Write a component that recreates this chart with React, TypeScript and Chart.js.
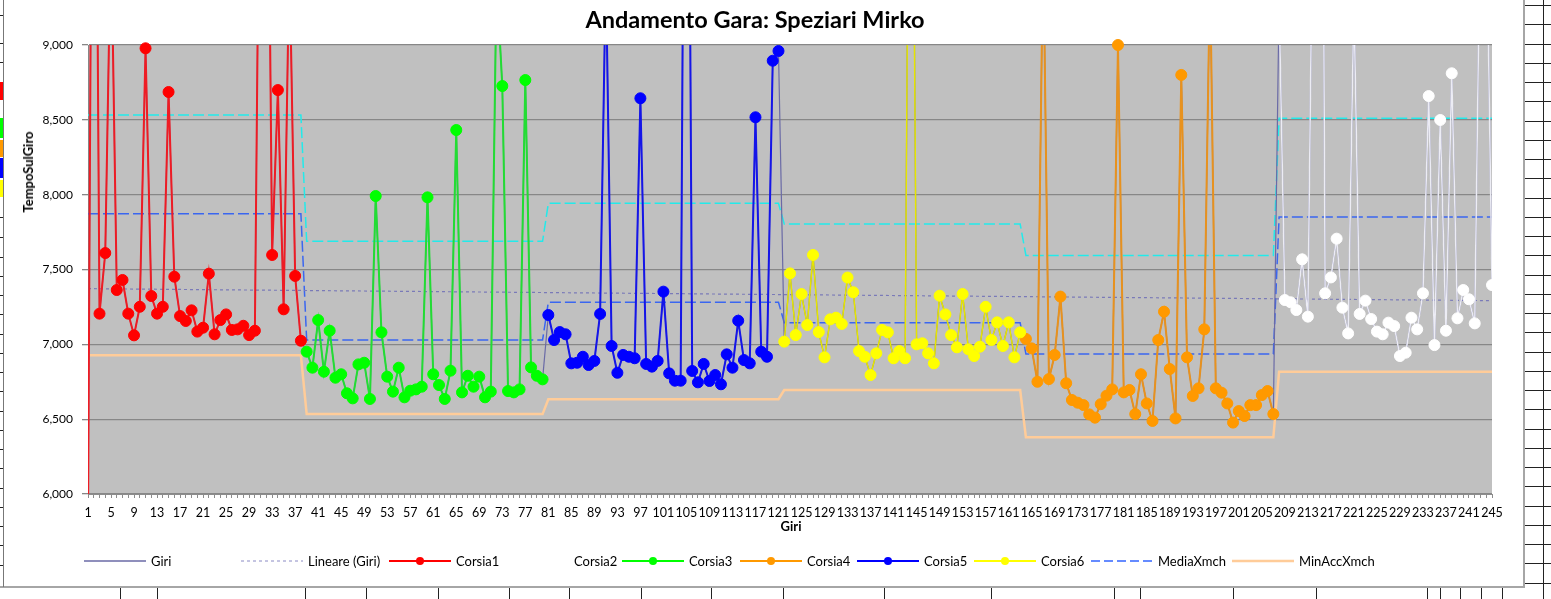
import React, { useEffect, useRef } from 'react';
import { Chart, registerables } from 'chart.js';

Chart.register(...registerables);

// ---------------- DATA ----------------
const laps: string[] = Array.from({ length: 245 }, (_, i) => String(i + 1));

const lapTimes: number[] = [
  5800, 13000, 7205, 7610, 9800, 7363, 7430, 7205, 7060, 7251,
  8978, 7323, 7205, 7251, 8686, 7452, 7189, 7156, 7227, 7085,
  7111, 7472, 7067, 7162, 7200, 7096, 7100, 7124, 7062, 7091,
  11200, 11700, 7597, 8699, 7234, 9600, 7457, 7024, 6951, 6844,
  7162, 6817, 7091, 6777, 6800, 6673, 6639, 6866, 6877, 6635,
  7991, 7080, 6784, 6684, 6844, 6646, 6690, 6699, 6717, 7982,
  6800, 6728, 6635, 6824, 8432, 6679, 6790, 6717, 6784, 6646,
  6684, 9450, 8726, 6688, 6679, 6699, 8766, 6846, 6790, 6766,
  7196, 7029, 7082, 7067, 6873, 6877, 6917, 6862, 6889, 7203,
  9500, 6989, 6810, 6929, 6917, 6907, 8644, 6869, 6851, 6889,
  7352, 6806, 6757, 6757, 13500, 6822, 6746, 6869, 6755, 6795,
  6733, 6933, 6844, 7158, 6895, 6873, 8517, 6951, 6917, 8895,
  8960, 7018, 7474, 7062, 7336, 7129, 7597, 7082, 6913, 7167,
  7178, 7136, 7446, 7348, 6955, 6917, 6795, 6940, 7096, 7080,
  6907, 6955, 6907, 12500, 7000, 7007, 6940, 6873, 7325, 7200,
  7062, 6980, 7336, 6967, 6922, 6984, 7251, 7029, 7147, 6989,
  7147, 6913, 7080, 7036, 6973, 6750, 9700, 6768, 6929, 7319,
  6740, 6628, 6610, 6594, 6532, 6510, 6600, 6657, 6699, 9000,
  6679, 6695, 6534, 6800, 6605, 6488, 7029, 7218, 6835, 6505,
  8800, 6913, 6655, 6706, 7100, 9500, 6706, 6677, 6605, 6477,
  6554, 6521, 6594, 6594, 6661, 6688, 6534, 9300, 7296, 7281,
  7229, 7568, 7185, 10500, 15000, 7341, 7447, 7706, 7245, 7073,
  9300, 7203, 7292, 7169, 7085, 7067, 7145, 7122, 6922, 6944,
  7178, 7100, 7341, 8659, 6995, 8499, 7091, 8811, 7174, 7363,
  7301, 7140, 10000, 10000, 7396,
];

// stints (in lap order)
const corsiaNames = ['Corsia1', 'Corsia3', 'Corsia5', 'Corsia6', 'Corsia4', 'Corsia2'];
const corsiaFirstLap = [1, 39, 81, 122, 164, 208];
const corsiaLastLap = [38, 80, 121, 163, 207, 245];

// per-stint reference values
const mediaXmch = [7873, 7029, 7281, 7145, 6935, 7851];
const maxXmch = [8532, 7688, 7942, 7804, 7594, 8510];
const minAccXmch = [6927, 6534, 6633, 6695, 6379, 6817];

// linear trend of Giri (first and last lap)
const trendEnds = [7372, 7292];

const yMin = 6000;
const yMax = 9000;
const yStep = 500;

// ---------------- STYLES ----------------
const corsiaStyle = [
  { marker: '#ff0000', line: '#ee1c24', width: 2 },
  { marker: '#00ff00', line: '#22dd33', width: 2 },
  { marker: '#0000ff', line: '#1515e8', width: 2 },
  { marker: '#ffff00', line: '#e6e600', width: 1.5 },
  { marker: '#ff9900', line: '#e8921e', width: 2 },
  { marker: '#ffffff', line: '#ececf4', width: 1.5 },
];

const FONT = 'Lato, "Open Sans", sans-serif';

type LegendItem = { label: string; x: number; color: string; width: number; dash?: string; marker?: string };
const legendItems: LegendItem[] = [
  { label: 'Giri', x: 84, color: '#6a6aa6', width: 1.5 },
  { label: 'Lineare (Giri)', x: 241, color: '#8a8ac4', width: 1, dash: '3 3' },
  { label: 'Corsia1', x: 389, color: '#ff0000', width: 2, marker: '#ff0000' },
  { label: 'Corsia2', x: 507, color: '#ffffff', width: 2, marker: '#ffffff' },
  { label: 'Corsia3', x: 622, color: '#00ff00', width: 2, marker: '#00ff00' },
  { label: 'Corsia4', x: 740, color: '#ff9900', width: 2, marker: '#ff9900' },
  { label: 'Corsia5', x: 857, color: '#0000ff', width: 2, marker: '#0000ff' },
  { label: 'Corsia6', x: 974, color: '#ffff00', width: 2, marker: '#ffff00' },
  { label: 'MediaXmch', x: 1091, color: '#3366ff', width: 1.5, dash: '9 4' },
  { label: 'MinAccXmch', x: 1232, color: '#ffcc99', width: 2.5 },
];

const bottomCellLines = [120, 157, 305, 366, 438, 509, 569, 641, 711, 783, 884, 991, 1114, 1140, 1233, 1316, 1427, 1440, 1460, 1481, 1502];

const plotBg = {
  id: 'plotBg',
  beforeDraw(chart: any) {
    const { ctx, chartArea } = chart;
    ctx.save();
    ctx.fillStyle = '#c0c0c0';
    ctx.fillRect(chartArea.left, chartArea.top, chartArea.right - chartArea.left, chartArea.bottom - chartArea.top);
    ctx.restore();
  },
};

export default function App() {
  const ref = useRef<HTMLCanvasElement>(null);

  useEffect(() => {
    document.body.style.margin = '0';
    const canvas = ref.current!;
    const segOf = (i: number) =>
      corsiaFirstLap.findIndex((f, s) => i + 1 >= f && i + 1 <= corsiaLastLap[s]);
    const step = (arr: number[]) => laps.map((_, i) => arr[segOf(i)]);

    const datasets: any[] = [];
    corsiaNames.forEach((name, s) => {
      const st = corsiaStyle[s];
      const vals = lapTimes.map((v, i) =>
        i + 1 >= corsiaFirstLap[s] && i + 1 <= corsiaLastLap[s] ? v : null
      );
      datasets.push({
        label: name + ' marker',
        data: vals.map((v) => (v !== null && v <= yMax + 50 ? v : null)),
        showLine: false,
        pointRadius: 5.5,
        pointBackgroundColor: st.marker,
        pointBorderColor: st.marker,
        pointBorderWidth: 1,
        clip: false,
        order: 0,
      });
      datasets.push({
        label: name,
        data: vals,
        borderColor: st.line,
        borderWidth: st.width,
        pointRadius: 0,
        clip: 0,
        order: 1,
      });
    });
    datasets.push({
      label: 'Giri',
      data: lapTimes,
      borderColor: '#6a6aa6',
      borderWidth: 1.2,
      pointRadius: 0,
      clip: 0,
      order: 2,
    });
    datasets.push({
      label: 'Lineare (Giri)',
      data: laps.map((_, i) => (i === 0 ? trendEnds[0] : i === laps.length - 1 ? trendEnds[1] : null)),
      spanGaps: true,
      borderColor: '#7a7ab8',
      borderWidth: 1.2,
      borderDash: [3, 3],
      pointRadius: 0,
      clip: 0,
      order: 3,
    });
    datasets.push({
      label: 'MediaXmch',
      data: step(mediaXmch),
      borderColor: '#3a66f0',
      borderWidth: 1.5,
      borderDash: [11, 4],
      pointRadius: 0,
      clip: 0,
      order: 4,
    });
    datasets.push({
      label: 'MaxXmch',
      data: step(maxXmch),
      borderColor: '#22eaea',
      borderWidth: 1.5,
      borderDash: [11, 4],
      pointRadius: 0,
      clip: 0,
      order: 5,
    });
    datasets.push({
      label: 'MinAccXmch',
      data: step(minAccXmch),
      borderColor: '#ffcc99',
      borderWidth: 2.5,
      pointRadius: 0,
      clip: 0,
      order: 6,
    });

    const chart = new Chart(canvas, {
      type: 'line',
      data: { labels: laps, datasets },
      options: {
        responsive: false,
        animation: false,
        events: [],
        layout: { padding: { left: 0, top: 45, right: 59, bottom: 0 } },
        plugins: {
          legend: { display: false },
          title: { display: false },
          tooltip: { enabled: false },
        },
        scales: {
          x: {
            type: 'category',
            offset: false,
            grid: { drawOnChartArea: false, drawTicks: true, tickLength: 4, color: '#8c8c8c' },
            border: { color: '#8c8c8c', width: 1 },
            ticks: {
              autoSkip: false,
              maxRotation: 0,
              minRotation: 0,
              padding: 7,
              color: '#000',
              font: { family: FONT, size: 12.5 },
              callback: (_v: any, i: number) => (i % 4 === 0 ? laps[i] : ''),
            },
            afterFit: (s: any) => {
              s.height = 105;
            },
          },
          y: {
            min: yMin,
            max: yMax,
            ticks: {
              stepSize: yStep,
              padding: 9,
              color: '#000',
              font: { family: FONT, size: 12 },
              callback: (v: any) => Number(v).toLocaleString('en-US'),
            },
            grid: { color: '#878787', tickLength: 6, lineWidth: 1.3 },
            border: { color: '#878787', width: 1 },
            afterFit: (s: any) => {
              s.width = 88;
            },
          },
        },
      } as any,
      plugins: [plotBg],
    });
    return () => chart.destroy();
  }, []);

  const rowLines = Array.from({ length: 32 }, (_, k) => 5 + k * 19.25);
  const leftMarks = [15, 43, 62, 217, 237, 257, 276, 295, 314, 334, 353, 372, 391, 411, 430, 449, 468, 488, 507, 526, 545, 565];
  const leftCells = [
    { y: 82, h: 18, c: '#ff0000' },
    { y: 118, h: 20, c: '#00ff00' },
    { y: 140, h: 17, c: '#ff9900' },
    { y: 158, h: 20, c: '#0000ff' },
    { y: 180, h: 17, c: '#ffff00' },
  ];

  return (
    <div
      style={{
        position: 'fixed',
        left: 0,
        top: 0,
        width: 1551,
        height: 599,
        overflow: 'hidden',
        background: '#fff',
        fontFamily: FONT,
      }}
    >
      {/* spreadsheet remnants */}
      {rowLines.map((y, k) => (
        <div key={'r' + k} style={{ position: 'absolute', left: 1525, top: Math.round(y), width: 26, height: 1, background: '#222' }} />
      ))}
      <div style={{ position: 'absolute', left: 1543, top: 0, width: 1, height: 599, background: '#222' }} />
      <div style={{ position: 'absolute', left: 1523, top: 0, width: 2, height: 588, background: '#a6a6a6' }} />
      <div style={{ position: 'absolute', left: 0, top: 586, width: 1525, height: 2, background: '#a6a6a6' }} />
      {bottomCellLines.map((x, k) => (
        <div key={'b' + k} style={{ position: 'absolute', left: x, top: 588, width: 1, height: 11, background: '#222' }} />
      ))}
      <div style={{ position: 'absolute', left: 3, top: 0, width: 1, height: 587, background: '#777' }} />
      {leftCells.map((c, k) => (
        <div key={'lc' + k} style={{ position: 'absolute', left: 0, top: c.y, width: 3, height: c.h, background: c.c }} />
      ))}
      {leftMarks.map((y, k) => (
        <div key={'lm' + k} style={{ position: 'absolute', left: 0, top: y, width: 3, height: 1, background: '#222' }} />
      ))}

      <canvas ref={ref} width={1551} height={599} style={{ position: 'absolute', left: 0, top: 0, width: 1551, height: 599 }} />

      {/* title */}
      <div
        style={{
          position: 'absolute',
          left: 755,
          top: 19,
          transform: 'translate(-50%, -50%)',
          fontWeight: 700,
          fontSize: 23.5,
          whiteSpace: 'nowrap',
          color: '#000',
        }}
      >
        Andamento Gara: Speziari Mirko
      </div>
      {/* axis titles */}
      <div
        style={{
          position: 'absolute',
          left: 28,
          top: 172,
          transform: 'translate(-50%, -50%) rotate(-90deg)',
          fontWeight: 700,
          fontSize: 13,
          whiteSpace: 'nowrap',
          color: '#000',
        }}
      >
        TempoSulGiro
      </div>
      <div
        style={{
          position: 'absolute',
          left: 791,
          top: 526,
          transform: 'translate(-50%, -50%)',
          fontWeight: 700,
          fontSize: 13,
          whiteSpace: 'nowrap',
          color: '#000',
        }}
      >
        Giri
      </div>
      {/* legend */}
      {legendItems.map((it, k) => (
        <React.Fragment key={'lg' + k}>
          <svg width={62} height={12} style={{ position: 'absolute', left: it.x, top: 555 }}>
            <line x1={0} y1={6} x2={62} y2={6} stroke={it.color} strokeWidth={it.width} strokeDasharray={it.dash} />
            {it.marker ? <circle cx={31} cy={6} r={4} fill={it.marker} /> : null}
          </svg>
          <div
            style={{
              position: 'absolute',
              left: it.x + 67,
              top: 561,
              transform: 'translateY(-50%)',
              fontSize: 13,
              whiteSpace: 'nowrap',
              color: '#000',
            }}
          >
            {it.label}
          </div>
        </React.Fragment>
      ))}
    </div>
  );
}
